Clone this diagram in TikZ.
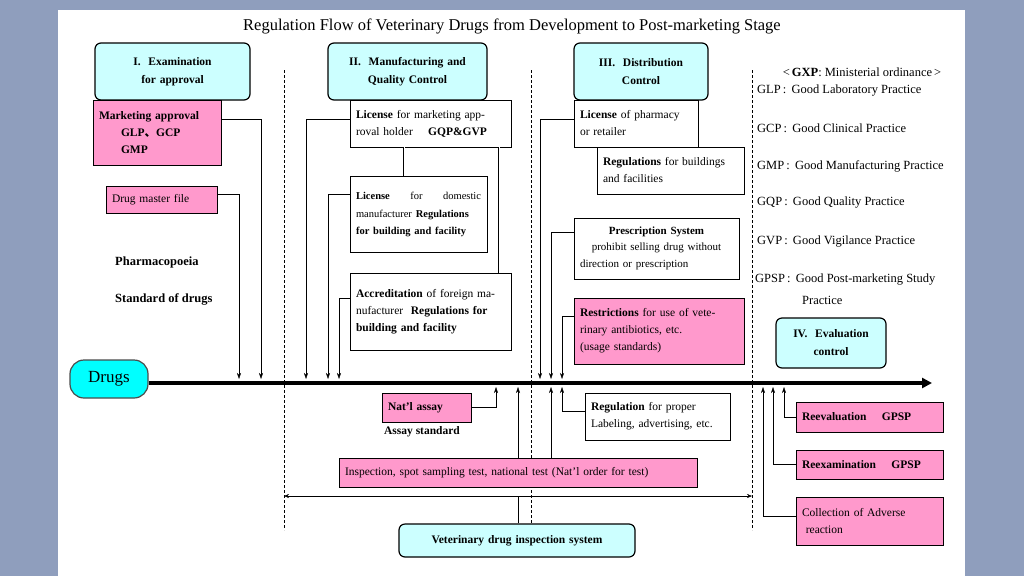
\documentclass[tikz,border=0pt]{standalone}
\usepackage{fontspec}
\setmainfont{Liberation Serif}
\newfontfamily\cjk{Noto Sans CJK JP}
\usetikzlibrary{arrows.meta,positioning}
\definecolor{slideBlue}{rgb}{0.56,0.62,0.74}
\definecolor{headCyan}{rgb}{0.80,1.00,1.00}
\definecolor{drugCyan}{rgb}{0.00,1.00,1.00}
\definecolor{boxPink}{rgb}{1.00,0.60,0.80}
% box from (x1,y1) to (x2,y2), pixel units
\newcommand{\rgBox}[7]{%
  \pgfmathsetmacro\bw{#5-#3}\pgfmathsetmacro\bh{#6-#4}%
  \pgfmathsetmacro\bx{(#3+#5)/2}\pgfmathsetmacro\by{(#4+#6)/2}%
  \pgfmathsetmacro\tw{#5-#3-12}%
  \node[#2, minimum width=\bw pt, minimum height=\bh pt, text width=\tw pt]
    (#1) at (\bx,\by) {#7};}
\tikzset{
  plain/.style={draw, fill=white, inner sep=0pt, align=left,
    font=\fontsize{11.5}{17}\selectfont},
  pink/.style={plain, fill=boxPink},
  head/.style={draw, very thick, rounded corners=6pt, fill=headCyan,
    align=center, inner sep=0pt, font=\bfseries\fontsize{11.5}{18}\selectfont},
  note/.style={font=\fontsize{12.5}{14}\selectfont, anchor=west, inner sep=0pt},
  feed/.style={-{Stealth[length=6pt,width=4pt]}},
  sep/.style={densely dashed, thin}
}
\begin{document}
\begin{tikzpicture}[x=1pt,y=-1pt]
  \fill[slideBlue] (0,0) rectangle (1024,576);
  \fill[white] (58,10) rectangle (965,576);
  \useasboundingbox (0,0) rectangle (1024,576);

  \node (title) at (512,26) {\fontsize{16.5}{18}\selectfont Regulation Flow of Veterinary Drugs from Development to Post-marketing Stage};

  % separators
  \foreach \sx/\sn in {284/a,531/b,752/c}
    \draw[sep] (\sx,70) coordinate (top\sn) -- (\sx,530) coordinate (bot\sn);

  % headers
  \rgBox{hI}{head}{95}{43}{250}{100}{I.\ \ Examination\\ for approval}
  \rgBox{hII}{head}{328}{43}{487}{100}{II.\ \ Manufacturing and\\Quality Control}
  \rgBox{hIII}{head}{574}{43}{708}{100}{III.\ \ Distribution\\Control}
  \rgBox{hIV}{head}{776}{318}{886}{368}{IV.\ \ Evaluation\\control}
  \node[draw=black!70, very thick, fill=drugCyan, rounded corners=14pt,
    minimum width=78pt, minimum height=38pt,
    font=\fontsize{17}{19}\selectfont] (drugs) at (109,379) {Drugs};

  % main flow
  \coordinate (flowend) at (932,383);
  \draw[line width=3.5pt, -{Triangle[length=10pt,width=10pt]}] (drugs.east |- flowend) -- (flowend);

  % I. examination
  \rgBox{mkt}{pink}{93}{100}{221}{165}{\bfseries Marketing approval\\\hspace*{22pt}GLP{\cjk 、}GCP\\\hspace*{22pt}GMP}
  \rgBox{dmf}{pink}{106}{186}{217}{213}{Drug master file}
  \node[note] (phar) at (115,262) {\bfseries Pharmacopoeia};
  \node[note] (std) at (115,299) {\bfseries Standard of drugs};

  % II. manufacturing
  \rgBox{lic}{plain}{350}{100}{511}{147}{\textbf{License} for marketing app-\\roval holder \quad \textbf{GQP\&GVP}}
  \rgBox{dom}{plain}{350}{176}{487}{252}{\fontsize{10.5}{18}\selectfont\textbf{License} \hfill for \hfill domestic\\manufacturer \textbf{Regulations}\\\textbf{for building and facility}}
  \rgBox{acc}{plain}{350}{273}{511}{350}{\textbf{Accreditation} of foreign ma-\\nufacturer \ \textbf{Regulations for}\\\textbf{building and facility}}
  \draw[double] (lic.south -| 404,0) -- (dom.north -| 404,0);
  \draw[double] (lic.south -| 499,0) -- (acc.north -| 499,0);

  % III. distribution
  \rgBox{pha}{plain}{574}{100}{698}{147}{\textbf{License} of pharmacy\\or retailer}
  \rgBox{bld}{plain}{597}{147}{744}{194}{\textbf{Regulations} for buildings\\and facilities}
  \rgBox{rx}{plain}{574}{218}{739}{279}{\centering\fontsize{11}{16}\selectfont\textbf{Prescription System}\\prohibit selling drug without\\direction or prescription}
  \rgBox{res}{pink}{574}{298}{744}{364}{\textbf{Restrictions} for use of vete-\\rinary antibiotics, etc.\\(usage standards)}

  % arrow ends on the flow
  \foreach \ax/\an in {239/dmf,261/mkt,306/lic,328/dom,339/acc,540/pha,551/rx,562/res}
    \coordinate (in\an) at (\ax,379);
  \foreach \ax/\an in {496/nat,518/insp,551/inspb,562/lab,763/col,773/rex,784/rev}
    \coordinate (up\an) at (\ax,387);

  \draw[feed] (mkt.north east) ++(0,19) -| (inmkt);
  \draw[feed] (dmf.north east) ++(0,8) -| (indmf);
  \draw[feed] (lic.north west) ++(0,19) -| (inlic);
  \draw[feed] (dom.north west) ++(0,18) -| (indom);
  \draw[feed] (acc.north west) ++(0,25) -| (inacc);
  \draw[feed] (pha.north west) ++(0,19) -| (inpha);
  \draw[feed] (rx.north west) ++(0,14) -| (inrx);
  \draw[feed] (res.north west) ++(0,18) -| (inres);

  % legend
  \node[note, anchor=center] (gxp) at (862,72) {<\,\textbf{GXP}: Ministerial ordinance\,>};
  \node[note] (glp) at (757,91) {GLP\,:\, Good Laboratory Practice};
  \node[note] (gcp) at (757,128) {GCP\,:\, Good Clinical Practice};
  \node[note] (gmp) at (757,166) {GMP\,:\, Good Manufacturing Practice};
  \node[note] (gqp) at (757,203) {GQP\,:\, Good Quality Practice};
  \node[note] (gvp) at (757,242) {GVP\,:\, Good Vigilance Practice};
  \node[note] (gpsp) at (755,280) {GPSP\,:\, Good Post-marketing Study};
  \node[note] (gpsp2) at (802,300) {Practice};

  % below the flow
  \rgBox{nat}{pink}{382}{393}{471}{422}{\bfseries Nat'l assay}
  \node[note, anchor=center] (assay) at (422,432) {\bfseries\fontsize{11.5}{13}\selectfont Assay standard};
  \rgBox{lab}{plain}{585}{393}{730}{440}{\textbf{Regulation} for proper\\Labeling, advertising, etc.}
  \rgBox{insp}{pink}{339}{458}{697}{487}{Inspection, spot sampling test, national test (Nat'l order for test)}
  \rgBox{vis}{head}{399}{524}{635}{557}{\fontsize{11.5}{13}\selectfont Veterinary drug inspection system}
  \draw[feed] (nat.east) -| (upnat);
  \draw[feed] (lab.north west) ++(0,18) -| (uplab);
  \draw[feed] (insp.north -| upinsp) -- (upinsp);
  \draw[feed] (insp.north -| upinspb) -- (upinspb);
  \coordinate (spanL) at (284,496);
  \coordinate (spanR) at (752,496);
  \draw[{Stealth[length=5pt,width=4pt]}-{Stealth[length=5pt,width=4pt]}] (spanL) -- (spanR);
  \draw (vis.north -| upinsp) -- (upinsp |- spanL);

  % IV. evaluation
  \rgBox{rev}{pink}{796}{402}{943}{432}{\bfseries Reevaluation \quad GPSP}
  \rgBox{rex}{pink}{796}{450}{943}{479}{\bfseries Reexamination \quad GPSP}
  \rgBox{col}{pink}{796}{497}{943}{545}{Collection of Adverse\\ \ reaction}
  \draw[feed] (rev.west) -| (uprev);
  \draw[feed] (rex.west) -| (uprex);
  \draw[feed] (col.north west) ++(0,19) -| (upcol);
\end{tikzpicture}
\end{document}
